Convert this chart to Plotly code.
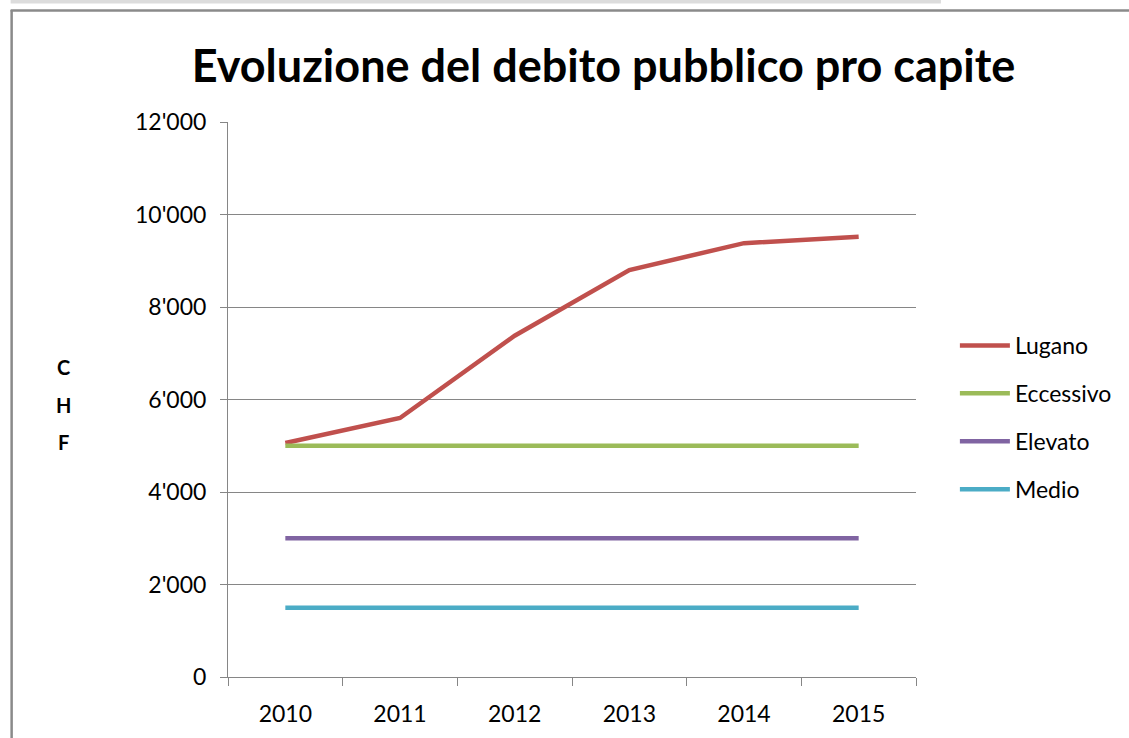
import plotly.graph_objects as go

years = ["2010", "2011", "2012", "2013", "2014", "2015"]
lugano = [5060, 5600, 7380, 8800, 9380, 9520]
eccessivo = [5000, 5000, 5000, 5000, 5000, 5000]
elevato = [3000, 3000, 3000, 3000, 3000, 3000]
medio = [1500, 1500, 1500, 1500, 1500, 1500]
series_names = ["Lugano", "Eccessivo", "Elevato", "Medio"]
series_values = [lugano, eccessivo, elevato, medio]
colors = ["#C0504D", "#9BBB59", "#8064A2", "#4BACC6"]
y_ticks = [0, 2000, 4000, 6000, 8000, 10000, 12000]
unit_letters = ["C", "H", "F"]

FONT = "Lato, 'Open Sans', sans-serif"
W, H = 1129, 738
L, R, T, B = 228, 211, 122, 61
pw, ph = W - L - R, H - T - B

fig = go.Figure()
for name, vals, col in zip(series_names, series_values, colors):
    fig.add_trace(go.Scatter(x=years, y=vals, name=name, mode="lines",
                             legendgroup=name,
                             line=dict(color=col, width=4.5)))

def px_x(p):
    return (p - L) / pw

def px_y(p):
    return 1 - (p - T) / ph

shapes = [
    dict(type="rect", xref="paper", yref="paper", x0=px_x(10), x1=px_x(943),
         y0=px_y(0), y1=px_y(3.5), fillcolor="#dcdcdc", line=dict(width=0), layer="below"),
    dict(type="line", xref="paper", yref="paper", x0=px_x(10), x1=px_x(1140),
         y0=px_y(10.5), y1=px_y(10.5), line=dict(color="#8a8a8a", width=2.5)),
    dict(type="line", xref="paper", yref="paper", x0=px_x(11), x1=px_x(11),
         y0=px_y(10), y1=px_y(750), line=dict(color="#8a8a8a", width=2.5)),
]

annotations = []
for i, ch in enumerate(unit_letters):
    annotations.append(dict(text=ch, xref="paper", yref="paper",
                            x=px_x(63), y=px_y(367 + i * 37.5), xanchor="center", yanchor="middle",
                            showarrow=False, font=dict(family=FONT, size=20, color="#000", weight="bold")))

fig.update_layout(
    width=W, height=H,
    margin=dict(l=L, r=R, t=T, b=B),
    paper_bgcolor="white", plot_bgcolor="white",
    separators=".'",
    title=dict(text="Evoluzione del debito pubblico pro capite", xref="container", x=603.5 / W,
               xanchor="center", yref="container", y=1 - 66 / H, yanchor="middle",
               font=dict(family=FONT, size=45, color="#000", weight="bold")),
    xaxis=dict(type="category", range=[-0.5, 5.5], tickson="boundaries", ticks="outside",
               ticklen=8, tickcolor="#868686", showline=True, linecolor="#868686", linewidth=1,
               showgrid=False, tickfont=dict(family=FONT, size=23, color="#000"), ticklabelstandoff=16),
    yaxis=dict(range=[0, 12000], tickvals=y_ticks, tickformat=",d", ticks="outside",
               ticklen=7, tickcolor="#868686", showline=True, linecolor="#868686", linewidth=1,
               showgrid=True, gridcolor="#868686", gridwidth=1, zeroline=False,
               tickfont=dict(family=FONT, size=23, color="#000"), ticklabelstandoff=9),
    legend=dict(x=px_x(957), y=px_y(324), xanchor="left", yanchor="top",
                font=dict(family=FONT, size=23, color="#000"), tracegroupgap=15,
                itemwidth=50, bgcolor="rgba(0,0,0,0)"),
    shapes=shapes,
    annotations=annotations,
)

fig.write_html("out.html", config={"displayModeBar": False},
               post_script="document.body.style.margin='0';")
